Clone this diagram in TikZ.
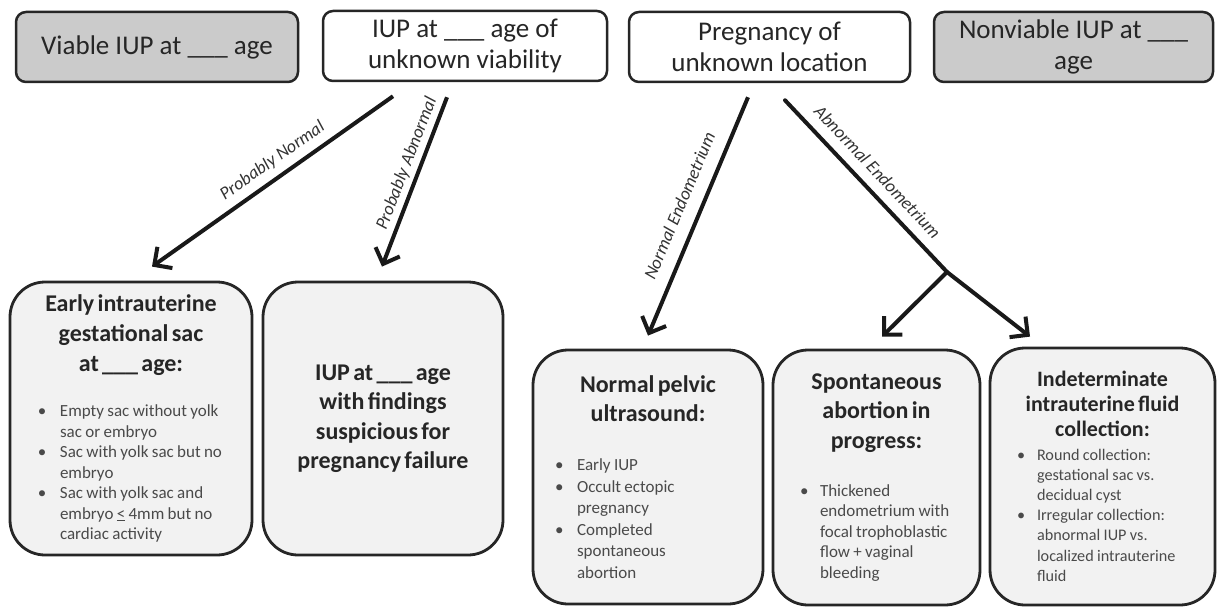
\documentclass[tikz,border=0pt]{standalone}
\usepackage{fontspec}
\setmainfont{Carlito}
\usetikzlibrary{arrows.meta}
\definecolor{ink}{HTML}{262626}
\definecolor{bulgray}{HTML}{4A4A4A}
\definecolor{topgray}{HTML}{CBCBCB}
\definecolor{botfill}{HTML}{F2F2F2}
\newcommand\bitem[3]{\par\noindent\hangindent=#2\hangafter=1\color{bulgray}\hbox to #2{\hskip#1\textbullet\hss}#3}
\newcommand\ttl[3]{\parindent=0pt\parskip=0pt{\centering\fontsize{#1}{#2}\bfseries\selectfont #3\par}}
\begin{document}
\begin{tikzpicture}[x=1pt,y=-1pt,
  topbox/.style={draw=ink, line width=2.5pt, rounded corners=10pt, align=center,
    font=\fontsize{27}{31}\selectfont, text=ink, inner sep=0pt, minimum height=70pt},
  graybox/.style={topbox, fill=topgray},
  whitebox/.style={topbox, fill=white},
  botbox/.style={draw=ink, line width=2.8pt, rounded corners=35pt, fill=botfill,
    inner sep=0pt, text=ink},
  arr/.style={line width=4pt, draw=black!90, -{Straight Barb[length=13pt,width=26pt]}},
  conn/.style={line width=4pt, draw=black!90, line cap=round},
  lab/.style={font=\fontsize{18}{20}\selectfont\itshape, text=black!80, sloped, inner sep=2pt}]
\useasboundingbox (0,0) rectangle (1218,607);

% top row
\node[graybox, minimum width=282pt] (viable) at (157,47) {Viable IUP at \_\_\_ age};
\node[whitebox, minimum width=284pt] (iup) at (465,46) {IUP at \_\_\_ age of\\unknown viability};
\node[whitebox, minimum width=281pt] (pul) at (769.5,47) {Pregnancy of\\unknown location};
\node[graybox, minimum width=279pt] (nonv) at (1073.5,47) {Nonviable IUP at \_\_\_\\age};

% bottom row
\node[botbox, minimum width=242pt, minimum height=273pt, text width=202pt] (early) at (131,418.5) {%
  \ttl{24}{30}{Early intrauterine\\gestational sac\\at \_\_\_ age:}
  \vspace{24.5pt}
  {\raggedright\fontsize{17}{20.5}\selectfont
  \bitem{8pt}{30pt}{Empty sac without yolk\newline sac or embryo}
  \bitem{8pt}{30pt}{Sac with yolk sac but no\newline embryo}
  \bitem{8pt}{30pt}{Sac with yolk sac and\newline embryo \underline{<} 4mm but no\newline cardiac activity}\par}};

\node[botbox, minimum width=240pt, minimum height=273pt, text width=200pt] (fail) at (383,418.5) {%
  \ttl{24}{29.5}{IUP at \_\_\_ age\\with findings\\suspicious for\\pregnancy failure}};

\node[botbox, minimum width=230pt, minimum height=254pt, text width=190pt] (normal) at (648,477) {%
  \ttl{24}{29}{Normal pelvic\\ultrasound:}
  \vspace{27.5pt}
  {\raggedright\fontsize{17}{21.5}\selectfont
  \bitem{2pt}{24pt}{Early IUP}
  \bitem{2pt}{24pt}{Occult ectopic\newline pregnancy}
  \bitem{2pt}{24pt}{Completed\newline spontaneous\newline abortion}\par}};

\node[botbox, minimum width=207pt, minimum height=255pt, text width=167pt] (spont) at (876.5,477.5) {%
  \ttl{24}{29.5}{Spontaneous\\abortion in\\progress:}
  \vspace{27.5pt}
  {\raggedright\fontsize{17}{20.5}\selectfont
  \bitem{7pt}{27pt}{Thickened\newline endometrium with\newline focal trophoblastic\newline flow + vaginal\newline bleeding}\par}};

\node[botbox, minimum width=225pt, minimum height=257pt, text width=185pt] (indet) at (1102.5,476.5) {%
  \ttl{22}{25}{Indeterminate\\intrauterine fluid\\collection:}
  \vspace{3pt}
  {\raggedright\fontsize{16.2}{20.2}\selectfont
  \bitem{7pt}{27pt}{Round collection:\newline gestational sac vs.\newline decidual cyst}
  \bitem{7pt}{27pt}{Irregular collection:\newline abnormal IUP vs.\newline localized intrauterine\newline fluid}\par}};

% connector end points
\coordinate (pnS) at ([xshift=-72pt,yshift=-14pt]iup.south);
\coordinate (pnE) at ([xshift=21pt,yshift=14pt]early.north);
\coordinate (paS) at ([xshift=-18pt,yshift=-15pt]iup.south);
\coordinate (paE) at ([xshift=-1pt,yshift=14pt]fail.north);
\coordinate (neS) at ([xshift=-21.5pt,yshift=-14pt]pul.south);
\coordinate (neE) at ([yshift=13pt]normal.north);
\coordinate (aeS) at ([xshift=15.5pt,yshift=-17pt]pul.south);
\coordinate (br) at (947,272);
\coordinate (saE) at ([xshift=5.5pt,yshift=12pt]spont.north);
\coordinate (ifE) at ([xshift=-72.5pt,yshift=10pt]indet.north);

% connectors
\draw[arr] (pnS) -- node[lab, pos=0.46, above=5pt] {Probably Normal} (pnE);
\draw[arr] (paS) -- node[lab, pos=0.42, above=2pt] {Probably Abnormal} (paE);
\draw[arr] (neS) -- node[lab, pos=0.49, above=11pt] {Normal Endometrium} (neE);
\draw[conn] (aeS) -- node[lab, pos=0.49, above=8pt] {Abnormal Endometrium} (br);
\draw[arr] (br) -- (saE);
\draw[arr] (br) -- (ifE);
\end{tikzpicture}
\end{document}
